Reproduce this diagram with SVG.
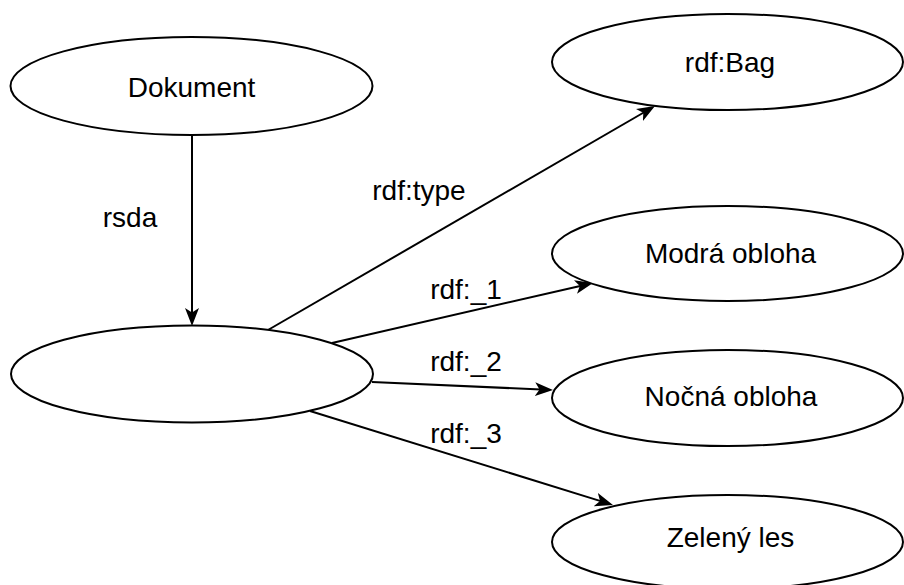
<svg xmlns="http://www.w3.org/2000/svg" width="904" height="585" viewBox="0 0 904 585">
<style>
.node ellipse{fill:#fff;stroke:#000;stroke-width:2}
text{font-family:"Liberation Sans",Arial,sans-serif;font-size:28px;fill:#000;text-anchor:middle}
.edge{stroke:#000;stroke-width:2;fill:none;marker-end:url(#arr)}
</style>
<defs>
<marker id="arr" markerUnits="userSpaceOnUse" markerWidth="19" markerHeight="15" viewBox="0 0 19 15" refX="6" refY="7.5" orient="auto">
<path d="M0,0.5 L18,7.5 L0,14.5 L4.5,7.5 Z" fill="#000"/>
</marker>
</defs>
<rect width="904" height="585" fill="#fff"/>
<g id="connectors">
<line class="edge" x1="192" y1="135" x2="192" y2="314"/>
<line class="edge" x1="268" y1="330" x2="644.6" y2="112"/>
<line class="edge" x1="332" y1="343" x2="581.3" y2="285.7"/>
<line class="edge" x1="372" y1="382" x2="541" y2="389.5"/>
<line class="edge" x1="310" y1="411" x2="601.5" y2="501.4"/>
<text x="130" y="227">rsda</text>
<text x="419" y="200">rdf:type</text>
<text x="466" y="299">rdf:_1</text>
<text x="466" y="371">rdf:_2</text>
<text x="466" y="443">rdf:_3</text>
</g>
<g id="dokument" class="node"><ellipse cx="191.5" cy="86" rx="181" ry="49"/><text x="191.5" y="97">Dokument</text></g>
<g id="blank" class="node"><ellipse cx="192" cy="374" rx="181" ry="48.5"/></g>
<g id="bag" class="node"><ellipse cx="727.5" cy="62" rx="175.5" ry="48"/><text x="730" y="72">rdf:Bag</text></g>
<g id="modra" class="node"><ellipse cx="727.5" cy="253.5" rx="175.5" ry="47.5"/><text x="730.5" y="263">Modrá obloha</text></g>
<g id="nocna" class="node"><ellipse cx="727.5" cy="398" rx="175.5" ry="48"/><text x="731" y="406">Nočná obloha</text></g>
<g id="zeleny" class="node"><ellipse cx="727.5" cy="542" rx="175.5" ry="47"/><text x="730.5" y="547">Zelený les</text></g>
</svg>
